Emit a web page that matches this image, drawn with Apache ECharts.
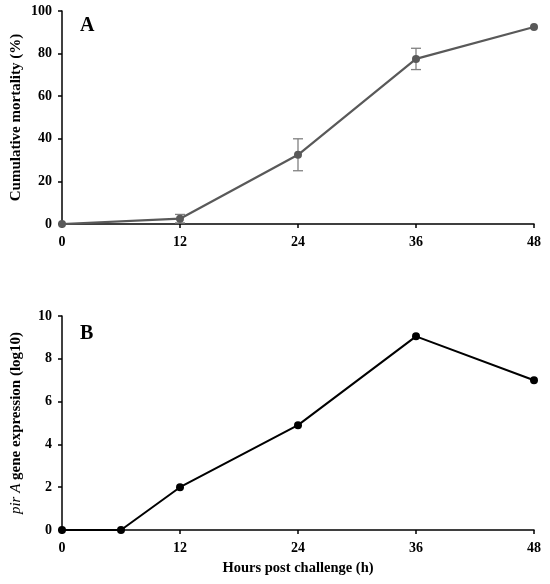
<!DOCTYPE html>
<html>
<head>
<meta charset="utf-8">
<script src="https://cdn.jsdelivr.net/npm/echarts@6/dist/echarts.min.js"></script>
<style>
  html, body { margin: 0; padding: 0; background: #fff; }
  #chart { width: 550px; height: 584px; }
</style>
</head>
<body>
<div id="chart"></div>
<script>
// panel A: cumulative mortality
const hoursA = [0, 12, 24, 36, 48];
const mortality = [0, 2.5, 32.5, 77.5, 92.5];
const mortalityErr = [0, 2, 7.5, 5, 0];

// panel B: pirA expression
const hoursB = [0, 6, 12, 24, 36, 48];
const pirA = [0, 0, 2, 4.9, 9.05, 7.0];

const xTicks = [0, 12, 24, 36, 48];

const font = '"Liberation Serif", "Times New Roman", serif';

let chart = echarts.init(document.getElementById('chart'));

let axisLine = { show: true, onZero: false, lineStyle: { color: '#000', width: 1.5 } };
let axisTick = { show: true, length: 4, lineStyle: { color: '#000', width: 1.5 } };
let tickLabel = { color: '#000', fontFamily: font, fontWeight: 'bold', fontSize: 14 };

function xAxis(idx, showName) {
    return {
        type: 'value', gridIndex: idx, min: xTicks[0], max: xTicks[xTicks.length - 1], interval: 12,
        axisLine: axisLine, axisTick: axisTick,
        axisLabel: Object.assign({ margin: 11 }, tickLabel),
        splitLine: { show: false },
        name: showName ? 'Hours post challenge (h)' : '',
        nameLocation: 'middle', nameGap: 31, nameMoveOverlap: false,
        nameTextStyle: { color: '#000', fontFamily: font, fontWeight: 'bold', fontSize: 14.5 }
    };
}

let errData = hoursA.map((h, i) => [h, mortality[i] - mortalityErr[i], mortality[i] + mortalityErr[i]]);

let option = {
    animation: false,
    backgroundColor: '#fff',
    grid: [
        { left: 62, right: 16, top: 11, height: 213, containLabel: false, outerBoundsMode: 'none' },
        { left: 62, right: 16, top: 316, height: 214, containLabel: false, outerBoundsMode: 'none' }
    ],
    xAxis: [xAxis(0, false), xAxis(1, true)],
    yAxis: [
        {
            type: 'value', gridIndex: 0, min: 0, max: 100, interval: 20,
            axisLine: axisLine, axisTick: axisTick,
            axisLabel: Object.assign({ margin: 10 }, tickLabel),
            splitLine: { show: false },
            name: 'Cumulative mortality (%)', nameLocation: 'middle', nameGap: 38, nameMoveOverlap: false,
            nameTextStyle: { color: '#000', fontFamily: font, fontWeight: 'bold', fontSize: 15 }
        },
        {
            type: 'value', gridIndex: 1, min: 0, max: 10, interval: 2,
            axisLine: axisLine, axisTick: axisTick,
            axisLabel: Object.assign({ margin: 10 }, tickLabel),
            splitLine: { show: false },
            name: '{i|pir A} gene expression (log10)', nameLocation: 'middle', nameGap: 38, nameMoveOverlap: false,
            nameTextStyle: {
                color: '#000', fontFamily: font, fontWeight: 'bold', fontSize: 15,
                rich: { i: { fontStyle: 'italic', fontWeight: 'normal', fontFamily: font, fontSize: 15, color: '#000' } }
            }
        }
    ],
    graphic: [
        { type: 'text', left: 80, top: 16, style: { text: 'A', font: 'bold 20px ' + font, fill: '#000' } },
        { type: 'text', left: 80, top: 324, style: { text: 'B', font: 'bold 20px ' + font, fill: '#000' } }
    ],
    series: [
        {
            type: 'custom', xAxisIndex: 0, yAxisIndex: 0,
            data: errData, z: 1,
            renderItem: function (params, api) {
                let lo = api.coord([api.value(0), api.value(1)]);
                let hi = api.coord([api.value(0), api.value(2)]);
                if (Math.abs(hi[1] - lo[1]) < 0.5) return;
                let w = 5;
                let style = { stroke: '#808080', lineWidth: 1.3 };
                return {
                    type: 'group',
                    children: [
                        { type: 'line', shape: { x1: lo[0], y1: lo[1], x2: hi[0], y2: hi[1] }, style: style },
                        { type: 'line', shape: { x1: lo[0] - w, y1: lo[1], x2: lo[0] + w, y2: lo[1] }, style: style },
                        { type: 'line', shape: { x1: hi[0] - w, y1: hi[1], x2: hi[0] + w, y2: hi[1] }, style: style }
                    ]
                };
            }
        },
        {
            type: 'line', xAxisIndex: 0, yAxisIndex: 0, z: 2,
            data: hoursA.map((h, i) => [h, mortality[i]]),
            symbol: 'circle', symbolSize: 8,
            lineStyle: { color: '#595959', width: 2.2 },
            itemStyle: { color: '#595959' }
        },
        {
            type: 'line', xAxisIndex: 1, yAxisIndex: 1, z: 2,
            data: hoursB.map((h, i) => [h, pirA[i]]),
            symbol: 'circle', symbolSize: 8,
            lineStyle: { color: '#000', width: 2 },
            itemStyle: { color: '#000' }
        }
    ]
};

chart.setOption(option);
</script>
</body>
</html>
